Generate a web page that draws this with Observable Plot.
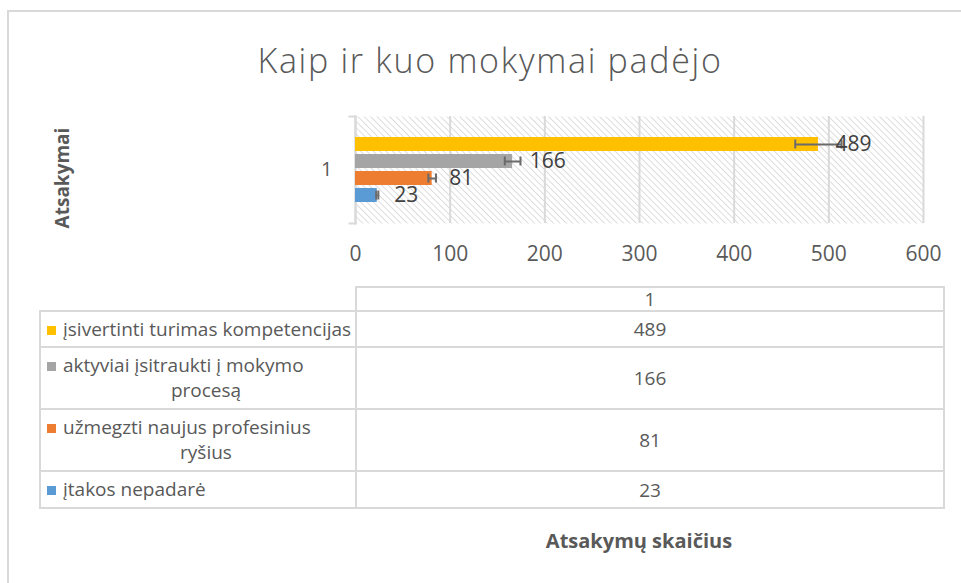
<!DOCTYPE html>
<html>
<head>
<meta charset="utf-8">
<script src="https://cdn.jsdelivr.net/npm/d3@7"></script>
<script src="https://cdn.jsdelivr.net/npm/@observablehq/plot@0.6"></script>
<style>
  html, body { margin: 0; padding: 0; background: #fff; }
  #wrap { position: relative; width: 961px; height: 583px; overflow: hidden; font-family: "Open Sans", Lato, sans-serif; color: #595959; }
  #border { position: absolute; left: 7px; top: 10px; width: 1100px; height: 1000px; border: 2px solid #d9d9d9; box-sizing: border-box; }
  #title { position: absolute; left: 0; top: 37px; width: 980px; text-align: center; font-size: 34px; font-weight: 300; letter-spacing: 1.7px; line-height: 46px; color: #595959; }
  #plot { position: absolute; left: 0; top: 0; }
  #table { position: absolute; left: 39px; top: 286px; border-collapse: collapse; table-layout: fixed; font-size: 19px; line-height: 20px; color: #595959; }
  #table td { border: 2px solid #d9d9d9; padding: 0; vertical-align: middle; box-sizing: border-box; }
  #table td.val { text-align: center; }
  #table td.corner { border-top: none; border-left: none; }
  .key { display: inline-block; width: 9px; height: 9px; margin-right: 7px; vertical-align: 1px; }
  .l1 { padding-left: 6px; white-space: nowrap; line-height: 25px; }
  .ln { padding-left: 16px; text-align: center; line-height: 25px; }
  #xtitle { position: absolute; left: 355px; width: 568px; top: 527px; text-align: center; font-size: 20px; font-weight: bold; color: #595959; }
</style>
</head>
<body>
<div id="wrap">
  <div id="border"></div>
  <div id="title"></div>
  <div id="plot"></div>
  <table id="table"></table>
  <div id="xtitle"></div>
</div>
<script>
// ---- data ----
const titleText = "Kaip ir kuo mokymai padėjo";
const yTitle = "Atsakymai";
const xTitle = "Atsakymų skaičius";
const category = "1";
const series = [
  "įsivertinti turimas kompetencijas",
  "aktyviai įsitraukti į mokymo procesą",
  "užmegzti naujus profesinius ryšius",
  "įtakos nepadarė"
];
const values = [489, 166, 81, 23];
const colors = ["#FFC000", "#A5A5A5", "#ED7D31", "#5B9BD5"];
const xTicks = [0, 100, 200, 300, 400, 500, 600];
const errorPct = 0.05;

const data = series.map((s, i) => ({series: s, value: values[i], color: colors[i]}));

document.getElementById("title").textContent = titleText;
document.getElementById("xtitle").textContent = xTitle;

const FONT = "'Open Sans', Lato, sans-serif";
const W = 961, H = 280;
const chart = Plot.plot({
  width: W,
  height: H,
  marginLeft: 355,
  marginRight: 38,
  marginTop: 116,
  marginBottom: H - 223,
  style: {fontFamily: FONT, color: "#595959", background: "transparent"},
  x: {domain: [0, 600], ticks: xTicks},
  y: {domain: series, axis: null, paddingInner: 1/6, paddingOuter: 1.056},
  color: {domain: series, range: colors},
  marks: [
    Plot.frame({fill: "url(#hatch)", stroke: null}),
    Plot.gridX(xTicks, {stroke: "#d9d9d9", strokeOpacity: 1, strokeWidth: 2}),
    Plot.frame({anchor: "left", stroke: "#d9d9d9", strokeWidth: 2}),
    Plot.frame({anchor: "top", stroke: "#d9d9d9", strokeWidth: 2, insetLeft: -6, insetRight: 568}),
    Plot.frame({anchor: "bottom", stroke: "#d9d9d9", strokeWidth: 2, insetLeft: -6, insetRight: 568}),
    Plot.axisX(xTicks, {tickSize: 0, tickPadding: 23, fontSize: 21, fill: "#595959", label: null}),
    Plot.text([category], {frameAnchor: "left", dx: -23, textAnchor: "end", fontSize: 20, fill: "#595959"}),
    Plot.text([yTitle], {frameAnchor: "left", textAnchor: "middle", dx: -293, dy: 8, rotate: -90, fontSize: 19, fontWeight: "bold", fill: "#595959"}),
    Plot.barX(data, {x: "value", y: "series", fill: "series"}),
    Plot.ruleY(data, {y: "series", x1: d => d.value * (1 - errorPct), x2: d => d.value * (1 + errorPct), stroke: "#6b6b6b", strokeWidth: 2}),
    Plot.tickX(data, {x: d => d.value * (1 - errorPct), y: "series", stroke: "#6b6b6b", strokeWidth: 2, insetTop: 2.5, insetBottom: 2.5}),
    Plot.tickX(data, {x: d => d.value * (1 + errorPct), y: "series", stroke: "#6b6b6b", strokeWidth: 2, insetTop: 2.5, insetBottom: 2.5}),
    Plot.text(data, {x: "value", y: "series", text: d => String(d.value), dx: 17, textAnchor: "start", fontSize: 21, fill: "#404040"})
  ]
});

// hatch pattern for the plot area background
const defs = d3.select(chart).insert("defs", ":first-child");
const pat = defs.append("pattern")
  .attr("id", "hatch")
  .attr("patternUnits", "userSpaceOnUse")
  .attr("width", 4.5).attr("height", 4.5)
  .attr("patternTransform", "rotate(45)");
pat.append("rect").attr("width", 4.5).attr("height", 4.5).attr("fill", "#ffffff");
pat.append("line").attr("x1", 0).attr("y1", 0).attr("x2", 4.5).attr("y2", 0)
  .attr("stroke", "#d6d6d6").attr("stroke-width", 1.6);
document.getElementById("plot").appendChild(chart);

// data table under the chart
const ctx = document.createElement("canvas").getContext("2d");
ctx.font = "19px 'Open Sans'";
const maxW = ctx.measureText(series[0]).width + 1;
function wrap(text) {
  const words = text.split(" ");
  const lines = [];
  let cur = "";
  for (const w of words) {
    const t = cur ? cur + " " + w : w;
    if (ctx.measureText(t).width > maxW && cur) { lines.push(cur); cur = w; }
    else cur = t;
  }
  if (cur) lines.push(cur);
  return lines;
}
const rowHeights = [36, 62, 62, 37];
const table = d3.select("#table");
const cg = table.append("colgroup");
cg.append("col").style("width", "316px");
cg.append("col").style("width", "588px");
const hr = table.append("tr").style("height", "24px");
hr.append("td").attr("class", "corner");
hr.append("td").attr("class", "val").text(category);
data.forEach((d, i) => {
  const tr = table.append("tr").style("height", rowHeights[i] + "px");
  const td = tr.append("td");
  const lines = wrap(d.series);
  const first = td.append("div").attr("class", "l1");
  first.append("span").attr("class", "key").style("background", d.color);
  first.append("span").text(lines[0]);
  lines.slice(1).forEach(l => td.append("div").attr("class", "ln").text(l));
  tr.append("td").attr("class", "val").text(d.value);
});
</script>
</body>
</html>
